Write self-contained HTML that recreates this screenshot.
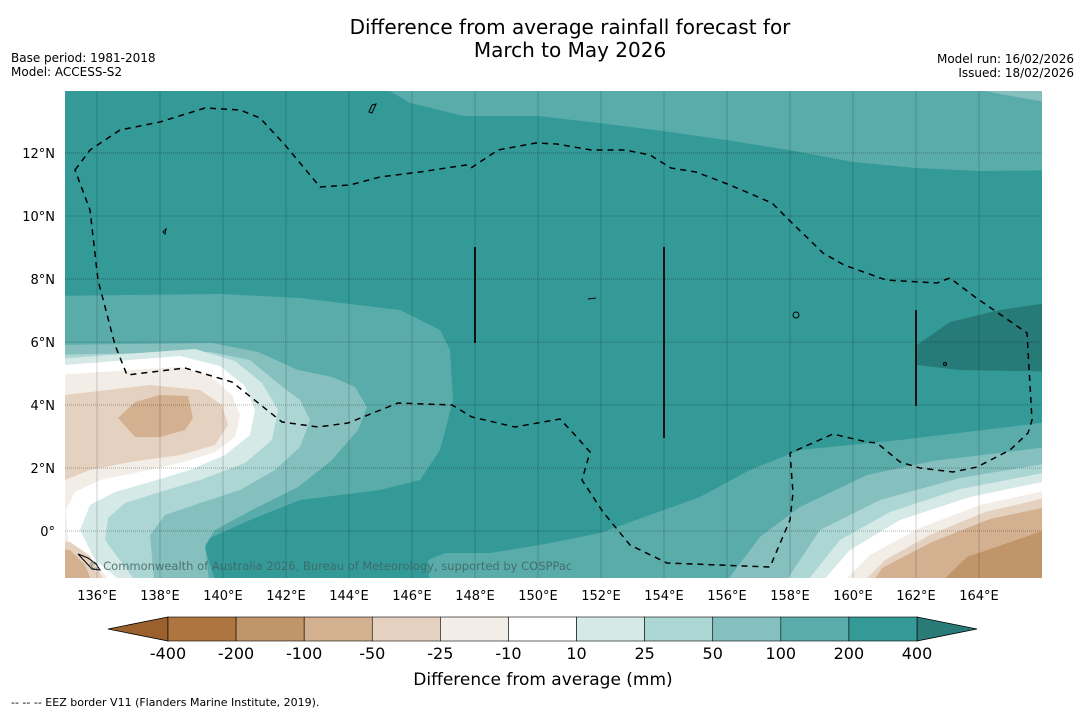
<!DOCTYPE html>
<html><head><meta charset="utf-8"><style>
body{margin:0;background:#fff;width:1085px;height:713px;overflow:hidden;font-family:"Liberation Sans","DejaVu Sans",sans-serif}
svg text{font-family:"DejaVu Sans","Liberation Sans",sans-serif}
</style></head><body>
<svg id="chart" width="1085" height="713" viewBox="0 0 1085 713" xmlns="http://www.w3.org/2000/svg">
<text x="570" y="34" font-size="20" text-anchor="middle" fill="#000">Difference from average rainfall forecast for</text>
<text x="570" y="57" font-size="20" text-anchor="middle" fill="#000">March to May 2026</text>
<text x="11" y="62" font-size="12">Base period: 1981-2018</text>
<text x="11" y="76" font-size="12">Model: ACCESS-S2</text>
<text x="1074" y="63" font-size="12" text-anchor="end">Model run: 16/02/2026</text>
<text x="1074" y="77" font-size="12" text-anchor="end">Issued: 18/02/2026</text>
<defs><clipPath id="mapclip"><rect x="65" y="91" width="977" height="487"/></clipPath></defs>
<g id="map" clip-path="url(#mapclip)">
<rect x="65" y="91" width="977" height="487" fill="#5aacab"/>
<path fill="#339a98" d="M40,91 L390,91 L410,103 L464,116 L538,116 L599,123 L663,131 L726,140 L789,150 L853,162 L916,168 L979,171 L1080,170 L1080,418 L1000,428 L900,440 L800,450 L750,470 L700,497 L600,533 L540,545 L490,553 L445,553 L428,560 L430,590 L218,590 L205,548 L210,538 L250,520 L300,500 L380,490 L420,480 L440,450 L453,400 L450,350 L440,330 L400,310 L300,298 L222,294 L40,296 Z"/>
<path fill="#85c0bf" d="M958,85 L1000,94 L1080,108 L1080,85 Z"/>
<path fill="#267a78" d="M917,345 L950,322 L1000,310 L1080,298 L1080,372 L960,370 L917,365 Z"/>
<path fill="#85c0bf" d="M40,345 L212,343 L258,352 L298,370 L332,377 L355,387 L367,407 L358,430 L332,460 L298,487 L252,510 L215,530 L205,545 L210,590 L40,590 Z"/>
<path fill="#acd6d4" d="M40,355 L210,352 L250,360 L280,385 L300,400 L310,420 L300,447 L275,470 L240,490 L200,503 L165,515 L150,535 L155,590 L40,590 Z"/>
<path fill="#d5e9e7" d="M40,360 L195,349 L235,361 L262,383 L278,410 L272,440 L245,463 L200,480 L160,492 L125,503 L108,518 L105,540 L142,590 L40,590 Z"/>
<path fill="#ffffff" d="M40,367 L180,356 L220,366 L245,386 L255,410 L250,435 L225,455 L190,470 L150,482 L115,492 L90,505 L80,530 L95,560 L132,590 L40,590 Z"/>
<path fill="#f2ede6" d="M40,376 L180,367 L210,376 L232,395 L240,415 L235,437 L215,452 L180,463 L140,472 L100,480 L75,492 L66,510 L68,540 L95,565 L120,590 L40,590 Z"/>
<path fill="#e5d1bf" d="M40,398 L150,385 L200,390 L222,405 L228,425 L215,445 L180,455 L130,462 L90,470 L65,480 L40,482 Z M40,540 L70,542 L90,556 L110,590 L40,590 Z"/>
<path fill="#d3b08f" d="M118,418 L135,402 L160,395 L188,396 L193,418 L185,430 L160,437 L135,437 Z M40,548 L70,550 L85,565 L95,590 L40,590 Z"/>
<path fill="#85c0bf" d="M1080,443 L933,461 L867,475 L800,507 L760,537 L720,590 L1080,590 Z"/>
<path fill="#acd6d4" d="M1080,458 L960,478 L880,500 L820,530 L780,590 L1080,590 Z"/>
<path fill="#d5e9e7" d="M1080,466 L960,489 L890,512 L840,540 L800,590 L1080,590 Z"/>
<path fill="#ffffff" d="M1080,474 L970,497 L900,520 L850,550 L815,590 L1080,590 Z"/>
<path fill="#f2ede6" d="M1080,483 L980,505 L920,528 L870,555 L835,590 L1080,590 Z"/>
<path fill="#e5d1bf" d="M1080,490 L985,512 L930,535 L885,560 L855,590 L1080,590 Z"/>
<path fill="#d3b08f" d="M1080,500 L990,519 L932,542 L882,568 L868,590 L1080,590 Z"/>
<path fill="#c09569" d="M1080,518 L967,557 L933,590 L1080,590 Z"/>
<g id="grid"></g>
<path fill="none" stroke="#000" stroke-width="1.5" stroke-dasharray="6,5" d="M75,170 L90,150 L120,130 L160,122 L205,108 L240,110 L260,118 L285,145 L320,187 L350,185 L380,177 L420,172 L466,165 L471,168 L498,150 L536,143 L557,144 L591,150 L625,150 L650,155 L671,168 L696,172 L730,185 L772,203 L789,220 L823,253 L844,265 L886,280 L937,283 L950,278 L975,297 L1027,333 L1032,420 L1028,433 L1010,450 L977,467 L953,472 L920,468 L900,462 L877,443 L867,442 L833,434 L790,453 L793,493 L790,520 L770,567 L667,563 L630,545 L603,512 L582,480 L590,452 L575,435 L560,419 L515,427 L472,417 L452,405 L398,403 L348,423 L318,427 L282,422 L232,382 L185,368 L127,375 L115,345 L98,280 L90,210 Z"/>
<g stroke="#111" stroke-width="2">
<line x1="475" y1="247" x2="475" y2="343"/><line x1="664" y1="247" x2="664" y2="438"/><line x1="916" y1="310" x2="916" y2="406"/>
</g>
<g fill="none" stroke="#000" stroke-width="1">
<circle cx="796" cy="315" r="3"/><path d="M369,112 L372,105 L376,104 L372,113 Z"/><path d="M163,232 L166,229 L165,234 Z"/><path d="M588,299 L596,298"/><path d="M78,554 L88,558 L96,564 L100,570 L92,569 Z"/><circle cx="945" cy="364" r="1.5"/>
</g>
<text x="88" y="570" font-size="11.5" fill="#3f6463" fill-opacity="0.85">© Commonwealth of Australia 2026, Bureau of Meteorology, supported by COSPPac</text>
</g>
<g id="axes"></g>
<g id="cbar"></g>
<text x="543" y="685" font-size="17" text-anchor="middle">Difference from average (mm)</text>
<text x="11" y="706" font-size="11">--  --  -- EEZ border V11 (Flanders Marine Institute, 2019).</text>
</svg>
<script>
const lonTicks=[136,138,140,142,144,146,148,150,152,154,156,158,160,162,164];
const latTicks=[0,2,4,6,8,10,12];
const cbarLevels=[-400,-200,-100,-50,-25,-10,10,25,50,100,200,400];
const cbarColors=["#ad7540","#c09569","#d3b08f","#e5d1bf","#f2ede6","#ffffff","#d5e9e7","#acd6d4","#85c0bf","#5aacab","#339a98"];
const NS="http://www.w3.org/2000/svg";
const xLon=l=>97+(l-136)*31.5;
const yLat=l=>531-l*31.5;
function mk(t,a,p){const e=document.createElementNS(NS,t);for(const k in a)e.setAttribute(k,a[k]);p.appendChild(e);return e;}
const grid=document.getElementById('grid'),axes=document.getElementById('axes'),cb=document.getElementById('cbar');
lonTicks.forEach(l=>{
 const ln=mk('line',{x1:xLon(l),x2:xLon(l),y1:91,y2:578,stroke:'#000','stroke-opacity':0.18,'stroke-width':1},grid);
 
 
 const t=mk('text',{x:xLon(l),y:600,'font-size':13,'text-anchor':'middle'},axes);
 t.textContent=l+'°E';
 
 
});
latTicks.forEach(l=>{
 const ln=mk('line',{x1:65,x2:1042,y1:yLat(l),y2:yLat(l),stroke:'#000','stroke-opacity':0.3,'stroke-width':1,'stroke-dasharray':'1,1'},grid);
 
 
 const t=mk('text',{x:55,y:yLat(l)+5,'font-size':13,'text-anchor':'end'},axes);
 t.textContent=l===0?'0°':l+'°N';
 
 
});
const cx0=168,cw=(917-168)/cbarColors.length,cy=617,ch=24;
const lt=mk('path',{d:`M${cx0},${cy} L108,${cy+ch/2} L${cx0},${cy+ch} Z`,fill:'#9a612c',stroke:'#000','stroke-width':0.8},cb);


const rt=mk('path',{d:`M917,${cy} L977,${cy+ch/2} L917,${cy+ch} Z`,fill:'#2a7b78',stroke:'#000','stroke-width':0.8},cb);


cbarColors.forEach((c,i)=>{
 const r=mk('rect',{x:cx0+i*cw,y:cy,width:cw,height:ch,fill:c,stroke:'#000','stroke-width':0.6},cb);
 
 
});
cbarLevels.forEach((v,i)=>{
 const t=mk('text',{x:cx0+i*cw,y:659,'font-size':16,'text-anchor':'middle'},cb);
 t.textContent=v;
 
 
});
</script>
</body></html>
